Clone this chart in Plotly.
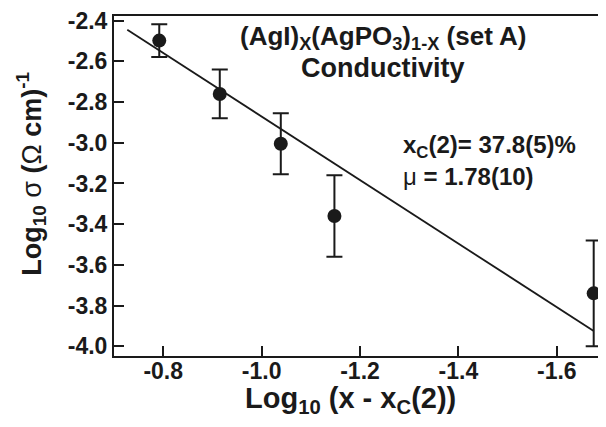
import plotly.graph_objects as go

# Data
log_dx = [-0.792, -0.915, -1.039, -1.148, -1.675]
log_sigma = [-2.498, -2.760, -3.005, -3.360, -3.740]
sigma_err = [0.08, 0.12, 0.15, 0.20, 0.26]

fit_x = [-0.727, -1.675]
fit_y = [-2.445, -3.925]

x_ticks = [-0.8, -1.0, -1.2, -1.4, -1.6]
y_ticks = [-2.4, -2.6, -2.8, -3.0, -3.2, -3.4, -3.6, -3.8, -4.0]

FONT = "Liberation Sans, Arial, Helvetica, sans-serif"
INK = "#1a1a1a"

# page body has an 8px margin: compensate so the plot area lands at x 114-606, y 11-356
OFF = 8
W, H = 606 - OFF, 427 - OFF
L, T = 114 - OFF, 11 - OFF
B = H - (356 - OFF)
R = 0

fig = go.Figure()
fig.add_trace(go.Scatter(
    x=fit_x, y=fit_y, mode="lines",
    line=dict(color=INK, width=1.8), showlegend=False, hoverinfo="skip"))
fig.add_trace(go.Scatter(
    x=log_dx, y=log_sigma, mode="markers",
    marker=dict(color=INK, size=14),
    error_y=dict(type="data", array=sigma_err, visible=True,
                 color=INK, thickness=2, width=8),
    showlegend=False, cliponaxis=False))

fig.update_layout(
    width=W, height=H,
    margin=dict(l=L, r=R, t=T, b=B, pad=0),
    paper_bgcolor="white", plot_bgcolor="white",
    font=dict(family=FONT, color=INK),
    xaxis=dict(range=[-0.7, -1.7], tickvals=x_ticks,
               ticktext=[f"{v:.1f}" for v in x_ticks],
               ticks="inside", ticklen=10, tickwidth=2, tickcolor=INK,
               showline=True, linewidth=2, linecolor=INK, mirror=True,
               showgrid=False, zeroline=False, ticklabelstandoff=-7,
               ticklabeloverflow="allow",
               tickfont=dict(size=23, family=FONT, weight="bold")),
    yaxis=dict(range=[-4.048, -2.377], tickvals=y_ticks,
               ticktext=[f"{v:.1f}" for v in y_ticks],
               ticks="inside", ticklen=10, tickwidth=2, tickcolor=INK,
               showline=True, linewidth=2, linecolor=INK, mirror=False,
               showgrid=False, zeroline=False, ticklabelstandoff=0,
               ticklabeloverflow="allow",
               tickfont=dict(size=23, family=FONT, weight="bold")),
)

PW = 606 - 114
PH = 356 - 11

def px_x(px):
    return (px - 114) / PW

def px_y(py):
    return (356 - py) / PH

annots = [
    dict(text="<b>(AgI)<sub>X</sub>(AgPO<sub>3</sub>)<sub>1-X</sub> (set A)</b>",
         x=px_x(383), y=px_y(33), xanchor="center", size=26),
    dict(text="<b>Conductivity</b>",
         x=px_x(383), y=px_y(64), xanchor="center", size=27),
    dict(text="<b>x<sub>C</sub>(2)= 37.8(5)%</b>",
         x=px_x(401), y=px_y(143), xanchor="left", size=24),
    dict(text="μ<b> = 1.78(10)</b>",
         x=px_x(401), y=px_y(174), xanchor="left", size=24),
    dict(text="<b>Log<sub>10</sub> (x - x<sub>C</sub>(2))</b>",
         x=px_x(350), y=px_y(401), xanchor="center", size=29),
]
for a in annots:
    fig.add_annotation(text=a["text"], x=a["x"], y=a["y"], xref="paper", yref="paper",
                       xanchor=a["xanchor"], yanchor="middle", showarrow=False,
                       font=dict(size=a["size"], family=FONT, color=INK))

fig.add_annotation(text="<b>Log<sub>10</sub></b> σ <b>(</b>Ω<b> cm)<sup>-1</sup></b>",
                   x=px_x(31), y=px_y(171), xref="paper", yref="paper",
                   xanchor="center", yanchor="middle", textangle=-90, showarrow=False,
                   font=dict(size=27, family=FONT, color=INK))

fig.write_html("out.html")
